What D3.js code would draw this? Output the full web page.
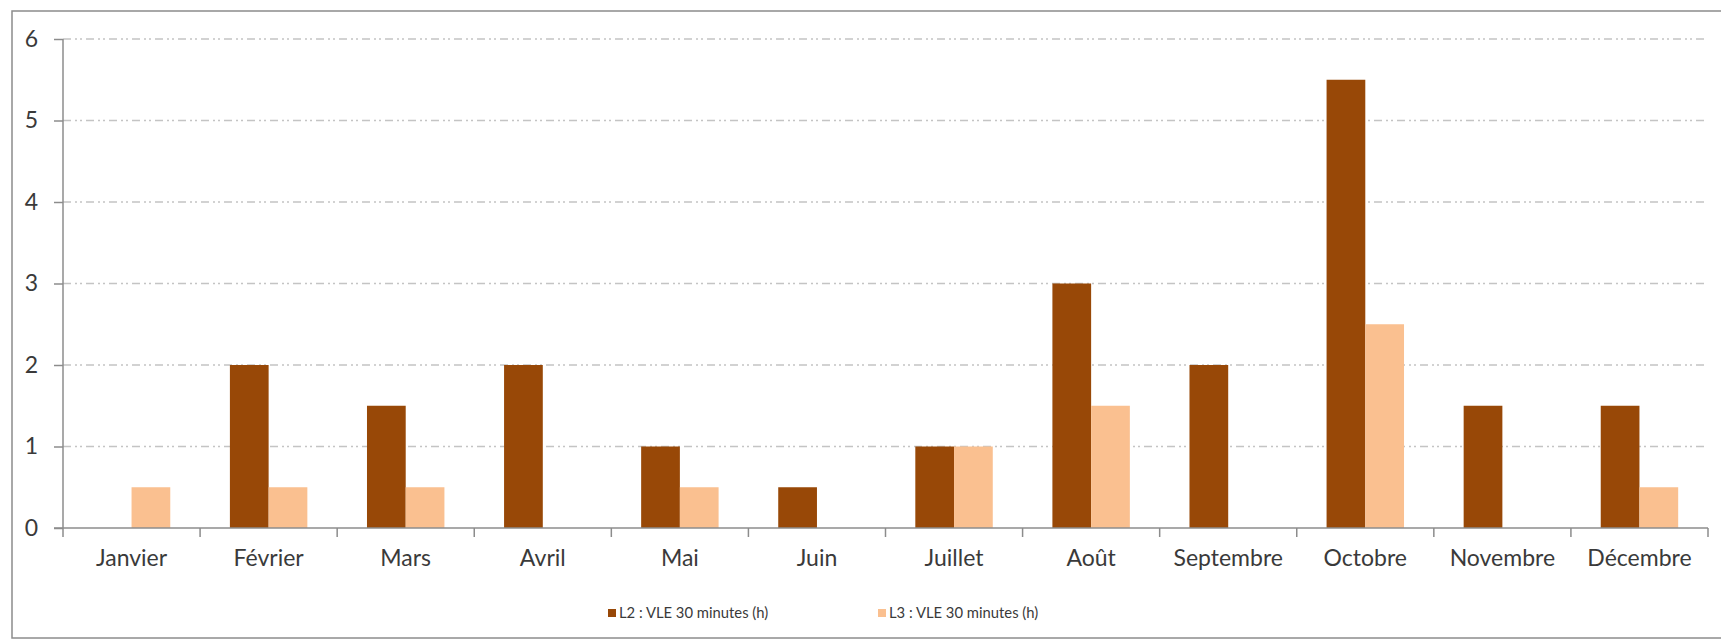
<!DOCTYPE html>
<html><head><meta charset="utf-8">
<script src="https://cdn.jsdelivr.net/npm/d3@7"></script>
<style>body{margin:0;background:#fff}svg{display:block}</style>
</head><body>
<svg id="c" width="1721" height="639"></svg>
<script>
const months = ["Janvier","Février","Mars","Avril","Mai","Juin","Juillet","Août","Septembre","Octobre","Novembre","Décembre"];
const seriesNames = ["L2 : VLE 30 minutes (h)","L3 : VLE 30 minutes (h)"];
const l2 = [0,2,1.5,2,1,0.5,1,3,2,5.5,1.5,1.5];
const l3 = [0.5,0.5,0.5,0,0.5,0,1,1.5,0,2.5,0,0.5];
const yTicks = [0,1,2,3,4,5,6];
const colors = ["#984807","#FAC090"];

(function(){
const svg = d3.select("#c");
const font = "Lato, 'Open Sans', sans-serif";
const pLeft = 63, pRight = 1708, pTop = 39, pBottom = 528;

svg.append("rect").attr("x",12).attr("y",11).attr("width",1720).attr("height",627)
  .attr("fill","#fff").attr("stroke","#8c8c8c").attr("stroke-width",1.5);

const x = d3.scaleBand().domain(months).range([pLeft,pRight]).padding(0);
const xs = d3.scaleBand().domain([0,1]).range([0,x.bandwidth()]).paddingInner(0).paddingOuter(0.77);
const y = d3.scaleLinear().domain([0,6]).range([pBottom,pTop]);

// grid
svg.append("g").selectAll("line").data(yTicks.filter(d=>d>0)).join("line")
  .attr("x1",pLeft).attr("x2",1705).attr("y1",d=>y(d)).attr("y2",d=>y(d))
  .attr("stroke","#c4c4c4").attr("stroke-width",1.3).attr("stroke-dasharray","8,4,2,3,2,4");

// bars
const data = months.map((m,i)=>({m, v:[l2[i],l3[i]]}));
const g = svg.append("g");
data.forEach(d=>{
  d.v.forEach((v,k)=>{
    if(v<=0) return;
    g.append("rect").attr("x",x(d.m)+xs(k)).attr("width",xs.bandwidth())
      .attr("y",y(v)).attr("height",y(0)-y(v)).attr("fill",colors[k]);
  });
});

// y axis
const ya = svg.append("g").attr("transform",`translate(${pLeft},0)`)
  .call(d3.axisLeft(y).tickValues(yTicks).tickSize(9).tickPadding(16).tickFormat(d3.format("d")));
ya.select(".domain").attr("stroke","#8c8c8c").attr("stroke-width",1.5).attr("d",`M0,${pTop}V${pBottom}`);
ya.selectAll(".tick line").attr("stroke","#8c8c8c").attr("stroke-width",1.5);
ya.selectAll("text").attr("font-family",font).attr("font-size",23).attr("fill","#3a3a3a");

// x axis
const xa = svg.append("g").attr("transform",`translate(0,${pBottom})`)
  .call(d3.axisBottom(x).tickSize(0).tickPadding(22));
xa.select(".domain").attr("stroke","#8c8c8c").attr("stroke-width",1.5).attr("d",`M${pLeft-9},0H${pRight}`);
xa.selectAll("text").attr("font-family",font).attr("font-size",23).attr("fill","#3a3a3a");
svg.append("g").selectAll("line").data(d3.range(13)).join("line")
  .attr("x1",i=>pLeft+i*x.step()).attr("x2",i=>pLeft+i*x.step())
  .attr("y1",pBottom).attr("y2",pBottom+9).attr("stroke","#8c8c8c").attr("stroke-width",1.5);

// legend
const legX = [608,878];
const lg = svg.append("g");
seriesNames.forEach((n,k)=>{
  lg.append("rect").attr("x",legX[k]).attr("y",609).attr("width",8).attr("height",8).attr("fill",colors[k]);
  lg.append("text").attr("x",legX[k]+11).attr("y",613).attr("dy","0.35em")
    .attr("font-family",font).attr("font-size",14.8).attr("fill","#3a3a3a").text(n);
});
})();
</script>
</body></html>
